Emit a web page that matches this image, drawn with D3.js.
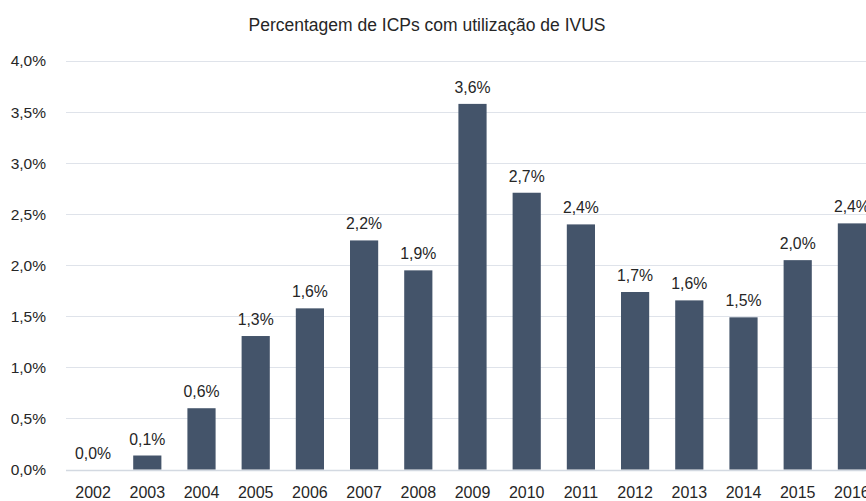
<!DOCTYPE html>
<html>
<head>
<meta charset="utf-8">
<script src="https://cdn.jsdelivr.net/npm/d3@7"></script>
<style>
  body { margin: 0; background: #fff; overflow: hidden; }
  text { font-family: "Liberation Sans", Arial, sans-serif; fill: #262626; }
</style>
</head>
<body>
<div id="content"></div>
<script>
// dados
var anos = ["2002","2003","2004","2005","2006","2007","2008","2009","2010","2011","2012","2013","2014","2015","2016"];
var valores = [0.0, 0.137, 0.60, 1.307, 1.578, 2.243, 1.95, 3.58, 2.71, 2.40, 1.738, 1.656, 1.49, 2.05, 2.41];
var rotulos = ["0,0%","0,1%","0,6%","1,3%","1,6%","2,2%","1,9%","3,6%","2,7%","2,4%","1,7%","1,6%","1,5%","2,0%","2,4%"];
var yTicks = [0, 0.5, 1, 1.5, 2, 2.5, 3, 3.5, 4];
var titulo = "Percentagem de ICPs com utilização de IVUS";

var width = 866, height = 501;
var margin = {top: 61, left: 66, bottom: 31};

var svg = d3.select("#content").append("svg")
    .attr("width", width)
    .attr("height", height);

var x = d3.scaleBand()
    .domain(anos)
    .range([margin.left, 879])   // o gráfico original está cortado à direita
    .paddingInner(0.48)
    .paddingOuter(0.24);

var y = d3.scaleLinear()
    .domain([0, 4])
    .range([height - margin.bottom - 0.5, margin.top]);

// grelha
svg.append("g")
    .selectAll("line")
    .data(yTicks)
    .enter().append("line")
    .attr("x1", margin.left)
    .attr("x2", width)
    .attr("y1", function(d) { return Math.round(y(d)) + 0.5; })
    .attr("y2", function(d) { return Math.round(y(d)) + 0.5; })
    .attr("stroke", function(d) { return d == 0 ? "#d3d9e1" : "#dfe3ea"; })
    .attr("stroke-width", function(d) { return d == 0 ? 1.5 : 1; });

// eixo y
var yAxis = svg.append("g")
    .attr("transform", "translate(" + (margin.left - 20) + ",0)")
    .call(d3.axisLeft(y).tickValues(yTicks).tickSize(0).tickPadding(0)
        .tickFormat(function(d) { return d.toFixed(1).replace(".", ",") + "%"; }));
yAxis.select(".domain").remove();
yAxis.selectAll("text").style("font-size", "15.5px").attr("fill", "#262626");

// eixo x
var xAxis = svg.append("g")
    .attr("transform", "translate(0," + y(0) + ")")
    .call(d3.axisBottom(x).tickSize(0).tickPadding(17));
xAxis.select(".domain").remove();
xAxis.selectAll("text").style("font-size", "16px").attr("fill", "#262626");

// barras
svg.selectAll(".bar")
    .data(valores)
    .enter().append("rect")
    .attr("class", "bar")
    .attr("x", function(d, i) { return x(anos[i]); })
    .attr("width", x.bandwidth())
    .attr("y", function(d) { return y(d); })
    .attr("height", function(d) { return y(0) - y(d); })
    .attr("fill", "#44546a");

// rótulos de valor
svg.selectAll(".lbl")
    .data(valores)
    .enter().append("text")
    .attr("class", "lbl")
    .attr("x", function(d, i) { return x(anos[i]) + x.bandwidth() / 2; })
    .attr("y", function(d) { return y(d) - 11; })
    .attr("text-anchor", "middle")
    .style("font-size", "15.8px")
    .text(function(d, i) { return rotulos[i]; });

// título
svg.append("text")
    .attr("x", 427)
    .attr("y", 31)
    .attr("text-anchor", "middle")
    .style("font-size", "17.5px")
    .text(titulo);
</script>
</body>
</html>
